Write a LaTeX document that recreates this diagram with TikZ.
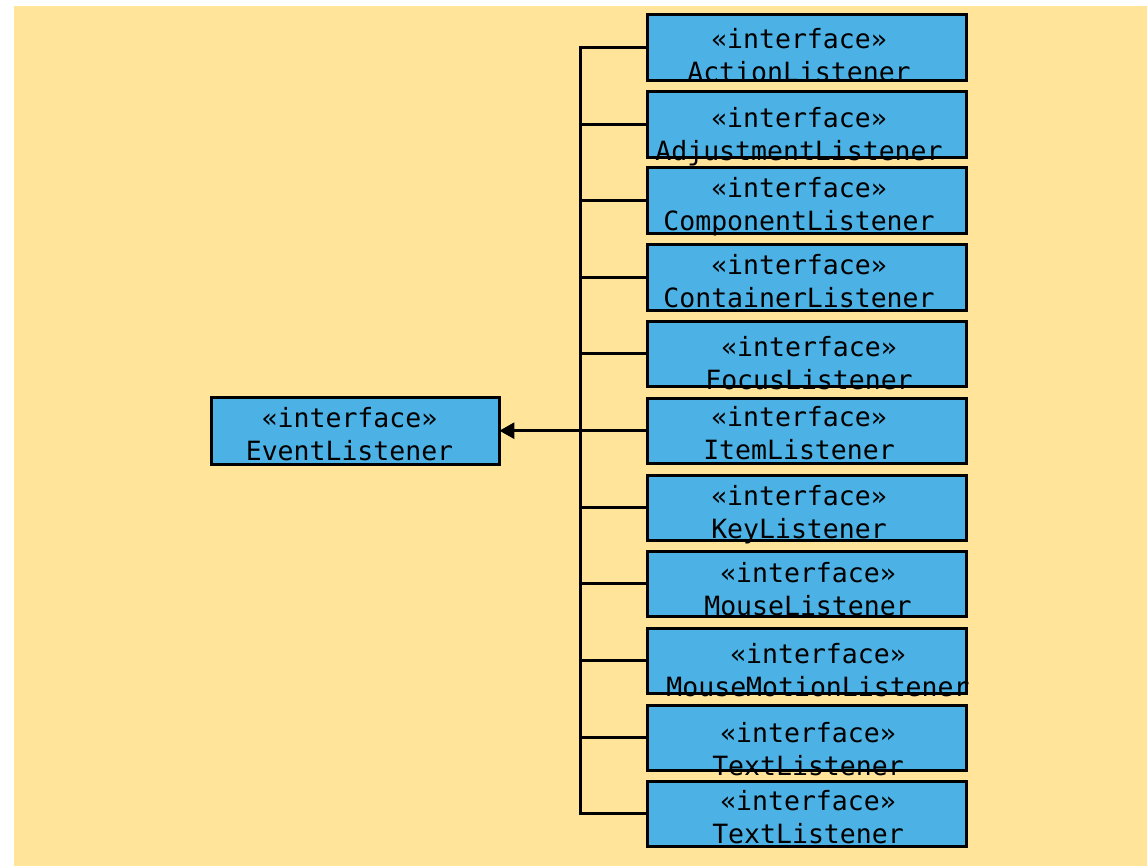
\documentclass[tikz,border=0pt]{standalone}
\usepackage{fontspec}
\newfontfamily\mono{DejaVu Sans Mono}
\usetikzlibrary{arrows.meta}
\definecolor{paper}{RGB}{255,228,153}
\definecolor{ifacefill}{RGB}{76,177,228}
\tikzset{
  ifacebox/.style={fill=ifacefill, draw=none, inner sep=0pt, anchor=north west},
  ifaceborder/.style={draw=black, line width=3pt},
  ifacetext/.style={anchor=base, inner sep=0pt, font=\mono\fontsize{26.5}{33}\selectfont},
  link/.style={draw=black, line width=3pt},
  extends/.style={link, -{Triangle[length=15pt, width=16pt]}}
}
\begin{document}
\begin{tikzpicture}[x=1pt, y=-1pt]
  \useasboundingbox (0,0) rectangle (1147,866);
  \fill[white] (0,0) rectangle (1147,866);
  \fill[paper] (14,6) rectangle (1147,866);

  % base interface
  \node[ifacebox, minimum width=288pt, minimum height=67pt] (ev) at (211,397) {};
  \node[ifacetext] (ev-a) at (349.5,427) {«interface»};
  \node[ifacetext] (ev-b) at (349.5,460) {EventListener};
  \draw[ifaceborder] (ev.south west) rectangle (ev.north east);

  % listener sub-interfaces: index / top / text centre / first baseline offset / name
  \foreach \i/\t/\xc/\o/\nm in {
      1/15/799/34/ActionListener,
      2/92/799/36/AdjustmentListener,
      3/168/799/30/ComponentListener,
      4/245/799/30/ContainerListener,
      5/321/809/35/FocusListener,
      6/398/799/28/ItemListener,
      7/475/799/30/KeyListener,
      8/551/808/31/MouseListener,
      9/628/818/35/MouseMotionListener,
      10/705/808/37/TextListener,
      11/781/808/29/TextListener}{
    \node[ifacebox, minimum width=319pt, minimum height=65pt] (b\i) at (647,\t) {};
    \node[ifacetext] (b\i-a) at (\xc,\t+\o) {«interface»};
    \node[ifacetext] (b\i-b) at (\xc,\t+\o+33) {\nm};
    \draw[ifaceborder] (b\i.south west) rectangle (b\i.north east);
  }

  % inheritance tree
  \coordinate (spine-top) at (580,0);
  \draw[link, line join=miter] (b1.west) -- (b1.west -| spine-top)
        -- (b11.west -| spine-top) -- (b11.west);
  \foreach \i in {2,...,10}
    \draw[link] (b\i.west) -- (b\i.west -| spine-top);
  \draw[extends] (ev.east -| spine-top) -- (ev.east);
\end{tikzpicture}
\end{document}
